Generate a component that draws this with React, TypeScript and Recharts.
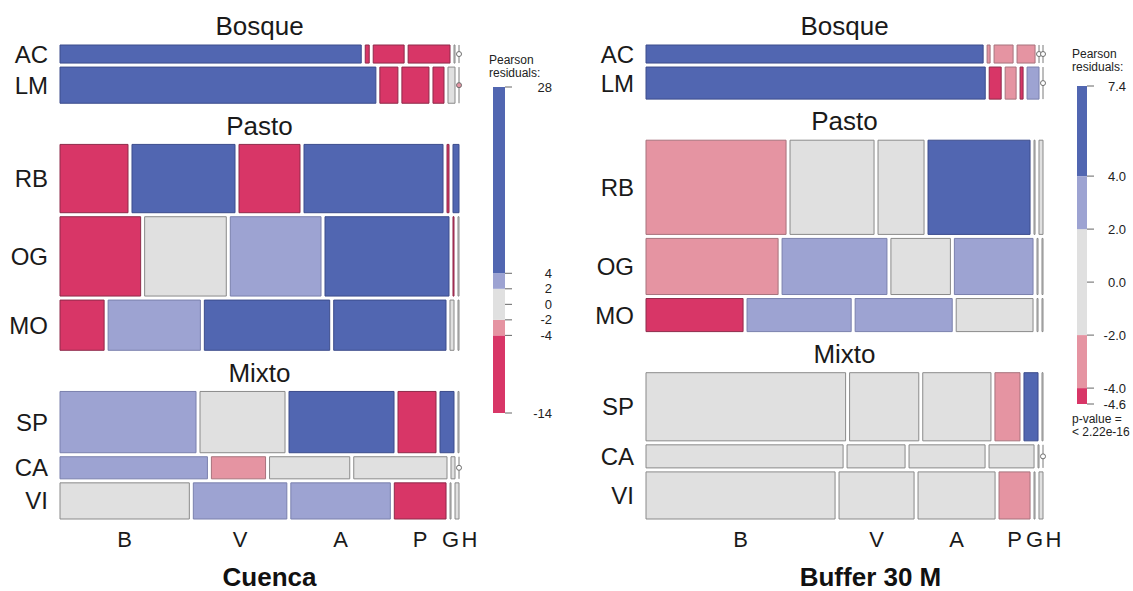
import { ComposedChart, XAxis, YAxis, ReferenceArea, ReferenceLine, Scatter } from 'recharts'

// Mosaic plots (vcd-style) of species x class, shaded by Pearson residuals.
const COLUMNS = ['B', 'V', 'A', 'P', 'G', 'H']
const ROWS = ['AC', 'LM', 'RB', 'OG', 'MO', 'SP', 'CA', 'VI']
const GROUP_NAMES = ['Bosque', 'Pasto', 'Mixto']
const GROUP_SIZES = [2, 3, 3]

// Cuenca: row heights (row totals) and cell counts per column
const cuencaHeights = [18, 36, 68, 79, 50, 61, 22, 36]
const cuencaCounts = [
  [302, 4, 31, 42, 1, 0],
  [315, 18, 27, 11, 7, 0],
  [68, 103, 61, 139, 2, 6],
  [80, 81, 90, 123, 1, 1],
  [44, 92, 125, 112, 4, 1],
  [136, 85, 105, 38, 14, 1],
  [147, 54, 80, 93, 4, 0],
  [130, 94, 100, 52, 1, 4],
]
// residual class: -2 (< -4), -1 (-4..-2), 0 (-2..2), 1 (2..4), 2 (> 4)
const cuencaShades = [
  [2, -2, -2, -2, 0, 0],
  [2, -2, -2, -2, 0, -2],
  [-2, 2, -2, 2, -2, 2],
  [-2, 0, 1, 2, -2, 0],
  [-2, 1, 2, 2, 0, 0],
  [1, 0, 2, -2, 2, 0],
  [1, -1, 0, 0, 0, 0],
  [0, 1, 1, -2, 0, 0],
]

// Buffer 30 M
const bufferHeights = [18, 32, 94, 56, 33, 68, 23, 47]
const bufferCounts = [
  [337, 3, 19, 18, 0, 0],
  [340, 12, 11, 3, 12, 0],
  [140, 84, 46, 102, 1, 4],
  [131, 104, 59, 78, 1, 1],
  [96, 103, 96, 76, 1, 1],
  [199, 69, 68, 25, 14, 1],
  [197, 58, 76, 45, 1, 0],
  [189, 75, 77, 31, 1, 4],
]
const bufferShades = [
  [2, -1, -1, -1, 0, 0],
  [2, -2, -1, -2, 1, 0],
  [-1, 0, 0, 2, 0, 0],
  [-1, 1, 0, 1, 0, 0],
  [-2, 1, 1, 0, 0, 0],
  [0, 0, 0, -1, 2, 0],
  [0, 0, 0, 0, 0, 0],
  [0, 0, 0, -1, 0, 0],
]

// legend scales
const cuencaBreaks = [-14, -4, -2, 2, 4, 28]
const cuencaTicks = [28, 4, 2, 0, -2, -4, -14]
const bufferBreaks = [-4.6, -4, -2, 2, 4, 7.4]
const bufferTicks = [7.4, 4, 2, 0, -2, -4, -4.6]

const FILL: Record<number, string> = {
  [-2]: '#d83667',
  [-1]: '#e594a2',
  0: '#e0e0e0',
  1: '#9da3d2',
  2: '#5166b1',
}
const STROKE: Record<number, string> = {
  [-2]: '#8e2a4a',
  [-1]: '#a7737d',
  0: '#8a8a8a',
  1: '#7a80ad',
  2: '#3c4c8c',
}

const ROW_WIDTH = 380
const COL_GAP = 4
const ROW_GAP = 4
const GROUP_GAP = 41
const FONT = '"Liberation Sans", Arial, Helvetica, sans-serif'
const H = 591

function sum(a: number[]) {
  return a.reduce((s, v) => s + v, 0)
}

interface Cell {
  r: number
  c: number
  x1: number
  x2: number
  y1: number
  y2: number
  zero: boolean
}

function layout(heights: number[], counts: number[][]) {
  const cells: Cell[] = []
  const mids: number[] = []
  const groupTops: number[] = []
  let y = 0
  let r = 0
  GROUP_SIZES.forEach((n, g) => {
    if (g > 0) y += GROUP_GAP
    groupTops.push(y)
    for (let k = 0; k < n; k++, r++) {
      if (k > 0) y += ROW_GAP
      const h = heights[r]
      const total = sum(counts[r])
      let x = 0
      counts[r].forEach((v, c) => {
        if (c > 0) x += COL_GAP
        const w = (v * ROW_WIDTH) / total
        cells.push({ r, c, x1: x, x2: x + w, y1: y, y2: y + h, zero: v === 0 })
        x += w
      })
      mids.push(y + h / 2)
      y += h
    }
  })
  // column labels under the last row, pushed apart when they crowd
  const last = cells.filter((d) => d.r === ROWS.length - 1)
  const labelPos: number[] = []
  last.forEach((d, i) => {
    const centre = (d.x1 + d.x2) / 2
    labelPos.push(i === 0 ? centre : Math.max(centre, labelPos[i - 1] + 19))
  })
  return { cells, mids, groupTops, total: y, labelPos }
}

function MosaicPanel({
  title,
  heights,
  counts,
  shades,
  left,
  width,
  yAxisWidth,
  marginRight,
  titleShift,
}: {
  title: string
  heights: number[]
  counts: number[][]
  shades: number[][]
  left: number
  width: number
  yAxisWidth: number
  marginRight: number
  titleShift: number
}) {
  const { cells, mids, groupTops, total, labelPos } = layout(heights, counts)
  const W = ROW_WIDTH + COL_GAP * (COLUMNS.length - 1)
  // empty cells are marked by a small circle in the middle of their line
  const zeros = cells
    .filter((d) => d.zero)
    .map((d) => ({ x: d.x1, y: (d.y1 + d.y2) / 2, neg: shades[d.r][d.c] < 0 }))
  return (
    <div style={{ position: 'absolute', left, top: 0 }}>
      <ComposedChart width={width} height={H} margin={{ top: 45, right: marginRight, bottom: 0, left: 0 }}>
        <XAxis
          type="number"
          dataKey="x"
          domain={[0, W]}
          ticks={labelPos}
          interval={0}
          tickFormatter={(_v: number, i: number) => COLUMNS[i]}
          axisLine={false}
          tickLine={false}
          tickSize={6}
          tickMargin={6}
          height={72}
          tick={{ fontSize: 22, fill: '#1a1a1a' }}
          label={{
            value: title,
            position: 'insideBottom',
            offset: 5,
            dx: titleShift,
            fontSize: 26,
            fontWeight: 'bold',
            fill: '#111',
          }}
        />
        <YAxis
          type="number"
          dataKey="y"
          domain={[0, total]}
          reversed
          ticks={mids}
          interval={0}
          tickFormatter={(_v: number, i: number) => ROWS[i]}
          axisLine={false}
          tickLine={false}
          tickSize={6}
          tickMargin={6}
          width={yAxisWidth}
          tick={{ fontSize: 24, fill: '#1a1a1a' }}
        />

        {GROUP_NAMES.map((g, i) => (
          <ReferenceArea
            key={g}
            x1={0}
            x2={W}
            y1={groupTops[i] - 36}
            y2={groupTops[i] - 2}
            fill="none"
            stroke="none"
            ifOverflow="visible"
            label={{ value: g, position: 'center', fontSize: 26, fill: '#1a1a1a' }}
          />
        ))}

        {cells.map((d) => {
          const s = shades[d.r][d.c]
          if (d.zero) {
            return (
              <ReferenceLine
                key={`z-${d.r}-${d.c}`}
                segment={[
                  { x: d.x1, y: d.y1 },
                  { x: d.x1, y: d.y2 },
                ]}
                stroke="#7a7a7a"
                strokeWidth={1}
                ifOverflow="visible"
              />
            )
          }
          return (
            <ReferenceArea
              key={`c-${d.r}-${d.c}`}
              x1={d.x1}
              x2={d.x2}
              y1={d.y1}
              y2={d.y2}
              fill={FILL[s]}
              fillOpacity={1}
              stroke={STROKE[s]}
              strokeWidth={1}
              ifOverflow="visible"
            />
          )
        })}
        <Scatter
          data={zeros}
          dataKey="y"
          isAnimationActive={false}
          shape={(p: any) => (
            <circle
              cx={p.cx}
              cy={p.cy}
              r={2.5}
              fill={p.payload.neg ? FILL[-1] : '#ffffff'}
              stroke="#6f6f6f"
              strokeWidth={1}
            />
          )}
        />
      </ComposedChart>
    </div>
  )
}

function ShadeLegend({
  left,
  width,
  top,
  bottom,
  barWidth,
  breaks,
  ticks,
  labelShift,
  decimals,
}: {
  left: number
  width: number
  top: number
  bottom: number
  barWidth: number
  breaks: number[]
  ticks: number[]
  labelShift: number
  decimals: number
}) {
  const lo = breaks[0]
  const hi = breaks[breaks.length - 1]
  const tickMarks = ticks.map((v) => ({ x: 1, y: v }))
  return (
    <div style={{ position: 'absolute', left, top: 0 }}>
      <ComposedChart width={width} height={H} margin={{ top, right: 0, bottom, left: 13 }}>
        <XAxis type="number" dataKey="x" domain={[0, 1]} hide />
        <YAxis
          type="number"
          dataKey="y"
          orientation="right"
          domain={[lo, hi]}
          ticks={ticks}
          interval={0}
          width={width - 13 - barWidth}
          axisLine={false}
          tickLine={false}
          tickSize={7}
          tickMargin={2}
          tick={(p: any) => (
            <text
              x={p.x + labelShift}
              y={p.y}
              dy="0.35em"
              textAnchor="end"
              fontSize={13}
              fill="#222"
            >
              {decimals ? Number(p.payload.value).toFixed(decimals) : p.payload.value}
            </text>
          )}
        />
        {breaks.slice(0, -1).map((b, i) => (
          <ReferenceArea
            key={b}
            x1={0}
            x2={1}
            y1={b}
            y2={breaks[i + 1]}
            fill={FILL[i - 2]}
            fillOpacity={1}
            stroke="none"
          />
        ))}
        <Scatter
          data={tickMarks}
          dataKey="y"
          isAnimationActive={false}
          shape={(p: any) => (
            <line x1={p.cx} x2={p.cx + 7} y1={p.cy} y2={p.cy} stroke="#666" strokeWidth={1} />
          )}
        />
      </ComposedChart>
    </div>
  )
}

const small: React.CSSProperties = {
  position: 'absolute',
  fontSize: 12,
  lineHeight: '13px',
  color: '#222',
  whiteSpace: 'nowrap',
}

export default function App() {
  return (
    <div
      style={{
        position: 'absolute',
        left: 0,
        top: 0,
        width: 1133,
        height: H,
        background: '#fff',
        fontFamily: FONT,
      }}
    >
      <MosaicPanel
        title="Cuenca"
        heights={cuencaHeights}
        counts={cuencaCounts}
        shades={cuencaShades}
        left={0}
        width={560}
        yAxisWidth={60}
        marginRight={101}
        titleShift={10}
      />
      <ShadeLegend
        left={480}
        width={90}
        top={87}
        bottom={H - 413}
        barWidth={12}
        breaks={cuencaBreaks}
        ticks={cuencaTicks}
        labelShift={38}
        decimals={0}
      />
      <div style={{ ...small, left: 489, top: 54 }}>
        Pearson
        <br />
        residuals:
      </div>

      <MosaicPanel
        title="Buffer 30 M"
        heights={bufferHeights}
        counts={bufferCounts}
        shades={bufferShades}
        left={560}
        width={573}
        yAxisWidth={86}
        marginRight={90}
        titleShift={26}
      />
      <ShadeLegend
        left={1064}
        width={69}
        top={86}
        bottom={H - 404}
        barWidth={10}
        breaks={bufferBreaks}
        ticks={bufferTicks}
        labelShift={30}
        decimals={1}
      />
      <div style={{ ...small, left: 1072, top: 48 }}>
        Pearson
        <br />
        residuals:
      </div>
      <div style={{ ...small, left: 1072, top: 413 }}>
        p-value =
        <br />
        {'< 2.22e-16'}
      </div>
    </div>
  )
}
